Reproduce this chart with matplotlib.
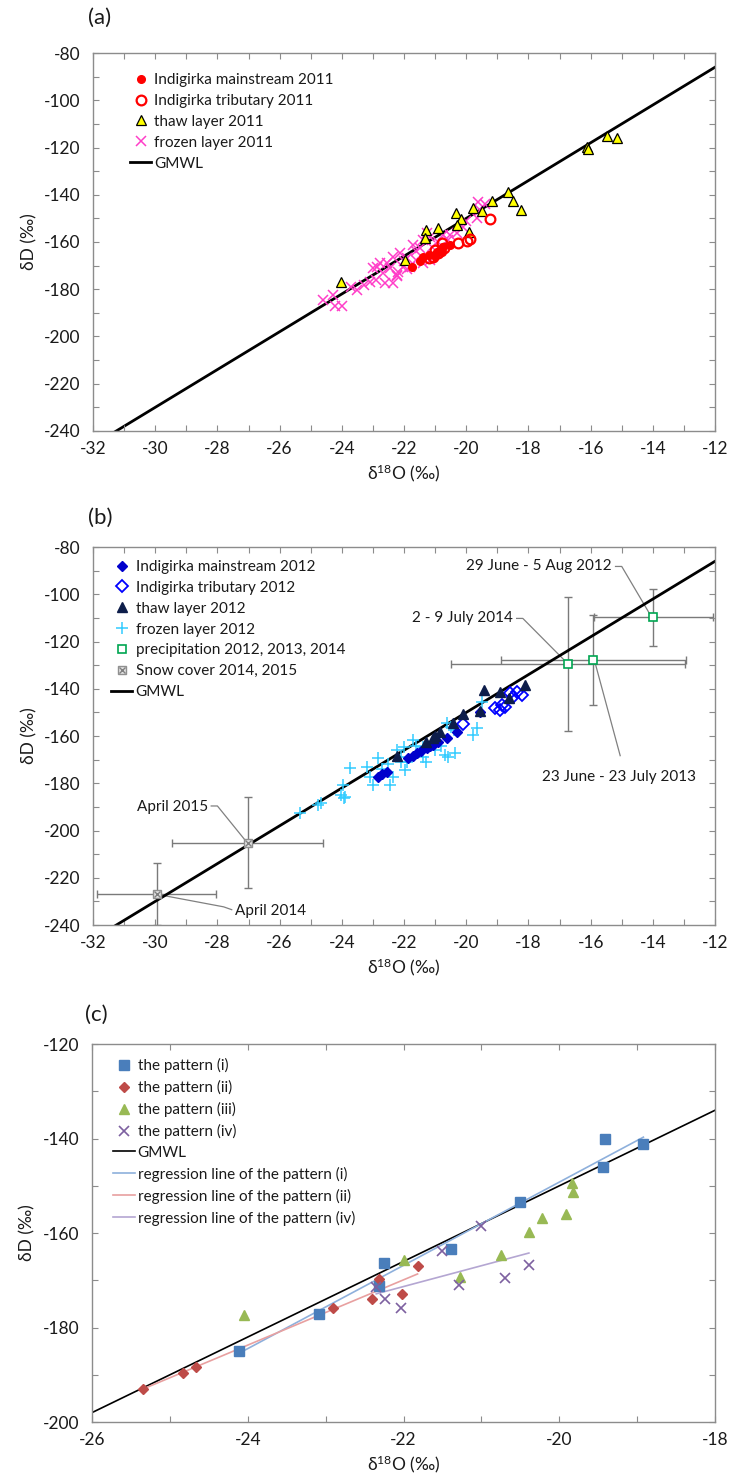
import numpy as np
import matplotlib
matplotlib.use('Agg')
import matplotlib.pyplot as plt
from matplotlib.ticker import MultipleLocator
from matplotlib.legend_handler import HandlerTuple

plt.rcParams['font.family'] = ['Lato', 'DejaVu Sans']
plt.rcParams['axes.unicode_minus'] = False
plt.rcParams['mathtext.fontset'] = 'custom'
plt.rcParams['mathtext.rm'] = 'Lato'
plt.rcParams['mathtext.it'] = 'Lato:italic'
plt.rcParams['mathtext.bf'] = 'Lato:bold'

# ---------------- data: panel (a) ----------------
a_main_x = [-21.75, -21.38, -21.2, -20.95, -20.79, -20.74, -20.52, -21.0, -21.5, -20.85]
a_main_y = [-170.4, -166.2, -165.5, -164.8, -164.1, -162.0, -161.3, -166.0, -168.0, -163.5]
a_trib_x = [-19.23, -20.25, -19.98, -19.88, -20.79, -20.9, -21.06, -21.2, -20.7, -21.0]
a_trib_y = [-150.1, -160.5, -159.4, -158.8, -160.3, -164.8, -166.2, -166.9, -162.5, -163.5]
a_thaw_x = [-18.65, -18.49, -18.25, -19.18, -19.77, -19.48, -20.33, -20.18, -20.31, -19.9,
            -20.9, -21.3, -21.33, -21.97, -24.04, -16.13, -16.07, -15.48, -15.16]
a_thaw_y = [-138.7, -142.5, -146.4, -142.6, -145.5, -146.7, -147.8, -150.4, -152.8, -155.6,
            -153.9, -154.9, -158.4, -167.6, -177.1, -119.6, -120.8, -115.1, -116.1]
a_froz_x = [-24.6, -24.22, -24.0, -24.27, -23.52, -23.7, -23.1, -22.61, -22.67, -22.24,
            -22.2, -22.88, -22.77, -22.56, -22.34, -22.13, -21.92, -21.7, -21.6, -21.38,
            -21.16, -20.74, -20.52, -20.31, -20.09, -19.66, -19.56, -19.61, -19.4, -21.6,
            -21.38, -21.16, -21.8, -22.9, -23.3, -21.1, -20.9, -21.5, -22.0, -22.45,
            -21.25, -20.0, -20.6, -21.9, -23.0, -22.03, -22.34, -22.24]
a_froz_y = [-184.5, -187.3, -187.3, -182.4, -180.3, -179.0, -176.8, -177.5, -173.2, -174.0,
            -172.5, -170.4, -169.0, -169.0, -166.2, -164.8, -166.9, -161.3, -164.0, -159.1,
            -157.7, -157.0, -157.0, -156.3, -153.5, -150.0, -146.4, -142.9, -144.0, -167.6,
            -169.0, -167.6, -170.4, -176.0, -178.0, -162.0, -160.0, -162.5, -168.0, -171.0,
            -156.0, -151.0, -159.0, -171.5, -171.0, -170.4, -177.5, -174.6]

# ---------------- data: panel (b) ----------------
b_main_x = [-22.83, -22.56, -22.7, -21.86, -21.59, -21.27, -21.06, -20.9, -20.63, -20.31,
            -19.56, -21.45, -21.7, -21.15]
b_main_y = [-177.2, -175.1, -176.0, -169.4, -167.3, -165.2, -163.8, -162.5, -161.0, -158.2,
            -149.7, -166.5, -168.5, -164.0]
b_trib_x = [-20.11, -19.07, -18.91, -18.75, -18.85, -18.59, -18.38, -18.22, -18.5]
b_trib_y = [-154.9, -148.3, -149.0, -147.6, -146.9, -141.9, -141.2, -142.6, -143.5]
b_thaw_x = [-19.42, -18.9, -18.1, -18.64, -19.56, -20.09, -20.44, -20.84, -21.06, -21.3,
            -22.24, -21.0]
b_thaw_y = [-140.3, -141.4, -138.4, -144.0, -149.3, -150.6, -154.6, -158.2, -161.0, -162.5,
            -168.4, -160.0]
b_froz_x = [-25.34, -24.76, -24.68, -24.03, -23.93, -23.95, -23.74, -23.9, -23.2, -23.1,
            -22.83, -22.99, -22.45, -22.34, -22.24, -21.97, -21.9, -21.7, -21.6, -21.38,
            -21.3, -20.68, -20.6, -20.36, -20.63, -20.5, -20.4, -19.77, -19.66, -19.5,
            -22.1, -22.5, -22.0, -22.1, -21.4, -22.7, -21.0, -20.8]
b_froz_y = [-192.7, -189.2, -188.5, -185.0, -186.4, -180.7, -173.7, -186.0, -173.0, -177.2,
            -169.4, -180.7, -180.7, -177.2, -165.9, -174.4, -171.0, -161.7, -164.0, -168.7,
            -171.0, -168.0, -169.0, -167.3, -154.6, -156.0, -157.3, -159.6, -156.7, -145.5,
            -171.0, -172.0, -164.6, -168.7, -164.6, -174.0, -166.0, -164.0]
prec_x = [-13.98, -16.72, -15.91]
prec_y = [-109.8, -129.5, -127.8]
prec_xerr = [1.92, 3.77, 2.98]
prec_yerr = [12.2, 28.2, 18.9]
prec_labels = ['29 June - 5 Aug 2012', '2 - 9 July 2014', '23 June - 23 July 2013']
snow_x = [-27.03, -29.95]
snow_y = [-205.1, -226.8]
snow_xerr = [2.43, 1.92]
snow_yerr = [19.3, 13.2]
snow_labels = ['April 2015', 'April 2014']

# ---------------- data: panel (c) ----------------
c1_x = [-24.11, -23.09, -22.32, -22.25, -21.39, -20.51, -19.44, -19.41, -18.92]
c1_y = [-184.9, -177.2, -171.1, -166.4, -163.4, -153.5, -146.0, -140.0, -141.2]
c2_x = [-25.35, -24.83, -24.67, -22.9, -22.41, -22.31, -21.82, -22.02]
c2_y = [-192.9, -189.6, -188.4, -175.8, -174.0, -169.7, -167.0, -173.0]
c3_x = [-24.05, -22.0, -21.28, -20.75, -20.39, -20.22, -19.92, -19.84, -19.82]
c3_y = [-177.4, -165.6, -169.2, -164.7, -159.7, -156.9, -156.0, -149.5, -151.3]
c4_x = [-22.35, -22.24, -22.03, -21.5, -21.29, -21.0, -20.7, -20.39]
c4_y = [-171.5, -174.0, -175.8, -163.7, -170.9, -158.5, -169.5, -166.8]

gmwl_slope, gmwl_int = 8.0, 10.0
gmwl_x_ab = [-32, -12]
gmwl_x_c = [-26, -18]

# ---------------- style ----------------
SPINE = '#8c8c8c'
TXT = '#1a1a1a'
TICK_FS = 12.5
LEG_FS = 11

fig = plt.figure(figsize=(7.33, 14.81), dpi=100)
ax_a = fig.add_axes([0.1269, 0.7090, 0.8486, 0.2552])
ax_b = fig.add_axes([0.1269, 0.3754, 0.8486, 0.2552])
ax_c = fig.add_axes([0.1255, 0.0398, 0.8500, 0.2552])


def style_axes(ax, xlim, ylim, xmaj, xmin, ymaj, ymin):
    ax.set_xlim(*xlim)
    ax.set_ylim(*ylim)
    ax.xaxis.set_major_locator(MultipleLocator(xmaj))
    ax.xaxis.set_minor_locator(MultipleLocator(xmin))
    ax.yaxis.set_major_locator(MultipleLocator(ymaj))
    ax.yaxis.set_minor_locator(MultipleLocator(ymin))
    for s in ax.spines.values():
        s.set_color(SPINE)
        s.set_linewidth(1.0)
    ax.tick_params(which='both', direction='in', top=True, right=True,
                   length=4.5, width=0.8, color=SPINE, labelsize=TICK_FS,
                   labelcolor=TXT)
    ax.tick_params(axis='x', which='major', pad=7)
    ax.tick_params(axis='y', which='major', pad=9)
    ax.set_xlabel('δ$^{18}$O (‰)', fontsize=TICK_FS, color=TXT, labelpad=4)
    ax.set_ylabel('δD (‰)', fontsize=TICK_FS, color=TXT, labelpad=5)


# ---------------- panel (a) ----------------
ax = ax_a
ga = np.array(gmwl_x_ab)
h_gm, = ax.plot(ga, gmwl_slope * ga + gmwl_int, color='black', lw=2, zorder=1, label='GMWL')
h_fz, = ax.plot(a_froz_x, a_froz_y, 'x', ms=7, color='#ff3ec8', mew=1.1, ls='none',
                zorder=2, label='frozen layer 2011')
h_am, = ax.plot(a_main_x, a_main_y, 'o', ms=5.5, color='#ff0000', mec='#ff0000', ls='none',
                zorder=4, label='Indigirka mainstream 2011')
h_at, = ax.plot(a_trib_x, a_trib_y, 'o', ms=7, mfc='none', mec='#ff0000', mew=1.6, ls='none',
                zorder=4, label='Indigirka tributary 2011')
h_th, = ax.plot(a_thaw_x, a_thaw_y, '^', ms=7, mfc='#ffff00', mec='black', mew=0.9, ls='none',
                zorder=3, label='thaw layer 2011')
style_axes(ax, (-32, -12), (-240, -80), 2, 1, 20, 10)
ax.legend(handles=[h_am, h_at, h_th, h_fz, h_gm], loc='upper left',
          bbox_to_anchor=(0.0595, 0.947), frameon=False, fontsize=LEG_FS,
          borderpad=0, borderaxespad=0, handlelength=1.4, handletextpad=0.2,
          labelspacing=0.45, labelcolor=TXT)

# ---------------- panel (b) ----------------
ax = ax_b
h_gm2, = ax.plot(ga, gmwl_slope * ga + gmwl_int, color='black', lw=2, zorder=2, label='GMWL')
h_bf, = ax.plot(b_froz_x, b_froz_y, '+', ms=8, color='#33ccff', mew=1.1, ls='none',
                zorder=3, label='frozen layer 2012')
h_bm, = ax.plot(b_main_x, b_main_y, 'D', ms=5, color='#0000cc', mec='#0000cc', ls='none',
                zorder=4, label='Indigirka mainstream 2012')
h_bt, = ax.plot(b_trib_x, b_trib_y, 'D', ms=6.5, mfc='none', mec='#0000ff', mew=1.3, ls='none',
                zorder=4, label='Indigirka tributary 2012')
h_bth, = ax.plot(b_thaw_x, b_thaw_y, '^', ms=7.5, color='#0d1d4a', mec='#0d1d4a', ls='none',
                 zorder=5, label='thaw layer 2012')
ax.errorbar(prec_x, prec_y, xerr=prec_xerr, yerr=prec_yerr, fmt='none', ecolor='#7a7a7a',
            elinewidth=1.0, capsize=3, capthick=1.0, zorder=1)
h_pr, = ax.plot(prec_x, prec_y, 's', ms=5.5, mfc='white', mec='#00a651', mew=1.2, ls='none',
                zorder=6, label='precipitation 2012, 2013, 2014')
ax.errorbar(snow_x, snow_y, xerr=snow_xerr, yerr=snow_yerr, fmt='none', ecolor='#7a7a7a',
            elinewidth=1.0, capsize=3, capthick=1.0, zorder=1)
h_sn1, = ax.plot(snow_x, snow_y, 's', ms=6, mfc='#e4e4e4', mec='#909090', mew=1.0, ls='none',
                 zorder=6)
h_sn2, = ax.plot(snow_x, snow_y, 'x', ms=4.5, color='#808080', mew=1.0, ls='none', zorder=7)

LEAD = '#808080'
ANN_FS = 11
# precipitation callouts
ax.text(-15.32, -88.2, prec_labels[0], ha='right', va='center', fontsize=ANN_FS, color=TXT)
ax.plot([-15.2, -15.0, -14.1], [-88.2, -88.2, -108.3], color=LEAD, lw=0.9, zorder=1)
ax.text(-18.5, -110.2, prec_labels[1], ha='right', va='center', fontsize=ANN_FS, color=TXT)
ax.plot([-18.38, -18.18, -16.86], [-110.2, -110.2, -127.7], color=LEAD, lw=0.9, zorder=1)
ax.text(-15.09, -177.5, prec_labels[2], ha='center', va='center', fontsize=ANN_FS, color=TXT)
ax.plot([-15.84, -15.05], [-129.8, -168.3], color=LEAD, lw=0.9, zorder=1)
# snow callouts
ax.text(-28.3, -189.9, snow_labels[0], ha='right', va='center', fontsize=ANN_FS, color=TXT)
ax.plot([-28.2, -28.0, -27.12], [-189.6, -189.6, -203.9], color=LEAD, lw=0.9, zorder=1)
ax.text(-27.43, -233.9, snow_labels[1], ha='left', va='center', fontsize=ANN_FS, color=TXT)
ax.plot([-27.54, -27.8, -29.78], [-233.5, -232.3, -227.4], color=LEAD, lw=0.9, zorder=1)

style_axes(ax, (-32, -12), (-240, -80), 2, 1, 20, 10)
ax.legend(handles=[h_bm, h_bt, h_bth, h_bf, h_pr, (h_sn1, h_sn2), h_gm2],
          labels=['Indigirka mainstream 2012', 'Indigirka tributary 2012', 'thaw layer 2012',
                  'frozen layer 2012', 'precipitation 2012, 2013, 2014',
                  'Snow cover 2014, 2015', 'GMWL'],
          handler_map={tuple: HandlerTuple(ndivide=1)},
          loc='upper left', bbox_to_anchor=(0.029, 0.966), frameon=False, fontsize=LEG_FS,
          borderpad=0, borderaxespad=0, handlelength=1.4, handletextpad=0.2,
          labelspacing=0.45, labelcolor=TXT)

# ---------------- panel (c) ----------------
ax = ax_c
gc = np.array(gmwl_x_c)
h_cg, = ax.plot(gc, gmwl_slope * gc + gmwl_int, color='black', lw=1.2, zorder=2, label='GMWL')


def reg_line(xs, ys):
    xs = np.asarray(xs)
    ys = np.asarray(ys)
    k, b = np.polyfit(xs, ys, 1)
    xr = np.array([xs.min(), xs.max()])
    return xr, k * xr + b


x1, y1 = reg_line(c1_x, c1_y)
x2, y2 = reg_line(c2_x, c2_y)
x4, y4 = reg_line(c4_x, c4_y)
h_r1, = ax.plot(x1, y1, color='#8eb0dc', lw=1.2, zorder=2,
                label='regression line of the pattern (i)')
h_r2, = ax.plot(x2, y2, color='#e8a0a0', lw=1.2, zorder=2,
                label='regression line of the pattern (ii)')
h_r4, = ax.plot(x4, y4, color='#b4a6d2', lw=1.2, zorder=2,
                label='regression line of the pattern (iv)')
h_c1, = ax.plot(c1_x, c1_y, 's', ms=7.5, color='#4a7ebb', ls='none', zorder=4,
                label='the pattern (i)')
h_c2, = ax.plot(c2_x, c2_y, 'D', ms=5.5, color='#be4b48', ls='none', zorder=4,
                label='the pattern (ii)')
h_c3, = ax.plot(c3_x, c3_y, '^', ms=7.5, color='#98b954', ls='none', zorder=4,
                label='the pattern (iii)')
h_c4, = ax.plot(c4_x, c4_y, 'x', ms=7, color='#7d60a0', mew=1.2, ls='none', zorder=4,
                label='the pattern (iv)')
style_axes(ax, (-26, -18), (-200, -120), 2, 1, 20, 10)
ax.legend(handles=[h_c1, h_c2, h_c3, h_c4, h_cg, h_r1, h_r2, h_r4], loc='upper left',
          bbox_to_anchor=(0.034, 0.963), frameon=False, fontsize=LEG_FS,
          borderpad=0, borderaxespad=0, handlelength=1.4, handletextpad=0.2,
          labelspacing=0.45, labelcolor=TXT)

# panel letters
fig.text(0.120, 0.988, '(a)', fontsize=16, color=TXT, ha='left', va='center')
fig.text(0.120, 0.650, '(b)', fontsize=16, color=TXT, ha='left', va='center')
fig.text(0.116, 0.3147, '(c)', fontsize=16, color=TXT, ha='left', va='center')

fig.savefig('out.png', dpi=100)
